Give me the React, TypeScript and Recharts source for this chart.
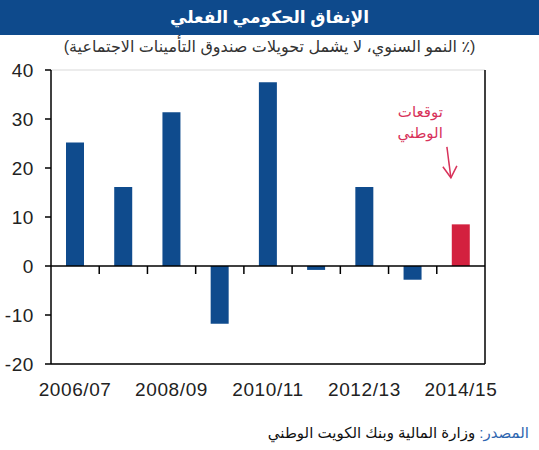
import React from "react";
import {
  BarChart,
  Bar,
  Cell,
  XAxis,
  YAxis,
  CartesianGrid,
  ReferenceLine,
  ReferenceDot,
} from "recharts";

const categories = [
  "2006/07",
  "2007/08",
  "2008/09",
  "2009/10",
  "2010/11",
  "2011/12",
  "2012/13",
  "2013/14",
  "2014/15",
];
const values = [25.2, 16.1, 31.4, -11.8, 37.5, -0.8, 16.1, -2.8, 8.5];
const isForecast = [false, false, false, false, false, false, false, false, true];
const yTicks = [-20, -10, 0, 10, 20, 30, 40];

const title = "الإنفاق الحكومي الفعلي";
const subtitle = "(٪ النمو السنوي، لا يشمل تحويلات صندوق التأمينات الاجتماعية)";
const sourceLabel = "المصدر:";
const sourceText = " وزارة المالية وبنك الكويت الوطني";
const noteLines = ["توقعات", "الوطني"];

const data = categories.map((c, i) => ({ name: c, value: values[i], forecast: isForecast[i] }));

const BLUE = "#0f4b8d";
const RED = "#d3213f";
const FONT = "'Liberation Sans', Arial, 'DejaVu Sans', sans-serif";

const tickStyle = { fontSize: 19, fill: "#222", fontFamily: FONT, letterSpacing: 0.6 };

const ZeroLine = (p: any) => {
  const { x1, x2, y1 } = p;
  const n = categories.length;
  const marks = [];
  for (let i = 1; i < n; i++) {
    const x = x1 + ((x2 - x1) * i) / n;
    marks.push(<line key={i} x1={x} x2={x} y1={y1} y2={y1 + 8} stroke="#000" strokeWidth={1.5} />);
  }
  return (
    <g>
      <line x1={x1} x2={x2} y1={y1} y2={y1} stroke="#000" strokeWidth={1.5} />
      {marks}
    </g>
  );
};

const Note = (p: any) => {
  const { cx, cy } = p;
  return (
    <g>
      <text
        x={cx - 18}
        y={cy - 61}
        textAnchor="end"
        fill="#d8325a"
        fontSize={15}
        fontFamily={FONT}
      >
        {noteLines[0]}
      </text>
      <text
        x={cx - 18}
        y={cy - 40}
        textAnchor="end"
        fill="#d8325a"
        fontSize={15}
        fontFamily={FONT}
      >
        {noteLines[1]}
      </text>
      <path
        d={`M${cx - 14},${cy - 31} L${cx - 10},${cy}`}
        stroke="#d8325a"
        strokeWidth={1.5}
        fill="none"
      />
      <path
        d={`M${cx - 18},${cy - 11} L${cx - 10},${cy} L${cx - 4},${cy - 12}`}
        stroke="#d8325a"
        strokeWidth={1.5}
        fill="none"
      />
    </g>
  );
};

export default function App() {
  return (
    <div
      style={{
        position: "absolute",
        left: 0,
        top: 0,
        width: 539,
        height: 450,
        background: "#fff",
        fontFamily: FONT,
        overflow: "hidden",
      }}
    >
      <div
        style={{
          position: "absolute",
          left: 0,
          top: 0,
          width: 539,
          height: 35,
          background: "#0e4a8c",
          color: "#fff",
          fontWeight: "bold",
          fontSize: 17,
          lineHeight: "35px",
          textAlign: "center",
        }}
        dir="rtl"
      >
        {title}
      </div>
      <div
        style={{
          position: "absolute",
          left: 0,
          top: 36,
          width: 539,
          height: 22,
          color: "#333",
          fontSize: 16,
          lineHeight: "22px",
          textAlign: "center",
        }}
        dir="rtl"
      >
        {subtitle}
      </div>
      <div style={{ position: "absolute", left: 0, top: 0 }}>
        <BarChart
          width={539}
          height={450}
          data={data}
          margin={{ top: 70, right: 0, bottom: 56, left: 0 }}
        >
          <CartesianGrid vertical={false} stroke="#d9d9d9" strokeWidth={1} />
          <XAxis
            dataKey="name"
            interval={1}
            tickLine={false}
            tickSize={0}
            tickMargin={19}
            height={30}
            axisLine={{ stroke: "#000", strokeWidth: 1.5 }}
            tick={tickStyle}
          />
          <YAxis
            yAxisId="left"
            orientation="left"
            width={51}
            domain={[-20, 40]}
            ticks={yTicks}
            interval={0}
            tickSize={6}
            tickMargin={11}
            axisLine={{ stroke: "#000", strokeWidth: 1.5 }}
            tickLine={{ stroke: "#000", strokeWidth: 1.5 }}
            tick={tickStyle}
          />
          <YAxis
            yAxisId="right"
            orientation="right"
            width={54}
            domain={[-20, 40]}
            ticks={yTicks}
            interval={0}
            tickSize={6}
            tickMargin={11}
            axisLine={{ stroke: "#000", strokeWidth: 1.5 }}
            tickLine={{ stroke: "#000", strokeWidth: 1.5 }}
            tick={tickStyle}
          />
          <Bar dataKey="value" yAxisId="left" barSize={18} isAnimationActive={false}>
            {data.map((d, i) => (
              <Cell key={i} fill={d.forecast ? RED : BLUE} />
            ))}
          </Bar>
          <ReferenceLine yAxisId="left" y={0} shape={ZeroLine} />
          <ReferenceDot
            yAxisId="left"
            x={categories[categories.length - 1]}
            y={18}
            ifOverflow="visible"
            shape={Note}
          />
        </BarChart>
      </div>
      <div
        style={{
          position: "absolute",
          right: 10,
          top: 424,
          fontSize: 15,
          color: "#111",
          whiteSpace: "nowrap",
        }}
        dir="rtl"
      >
        <span style={{ color: "#2f66b0" }}>{sourceLabel}</span>
        {sourceText}
      </div>
    </div>
  );
}
